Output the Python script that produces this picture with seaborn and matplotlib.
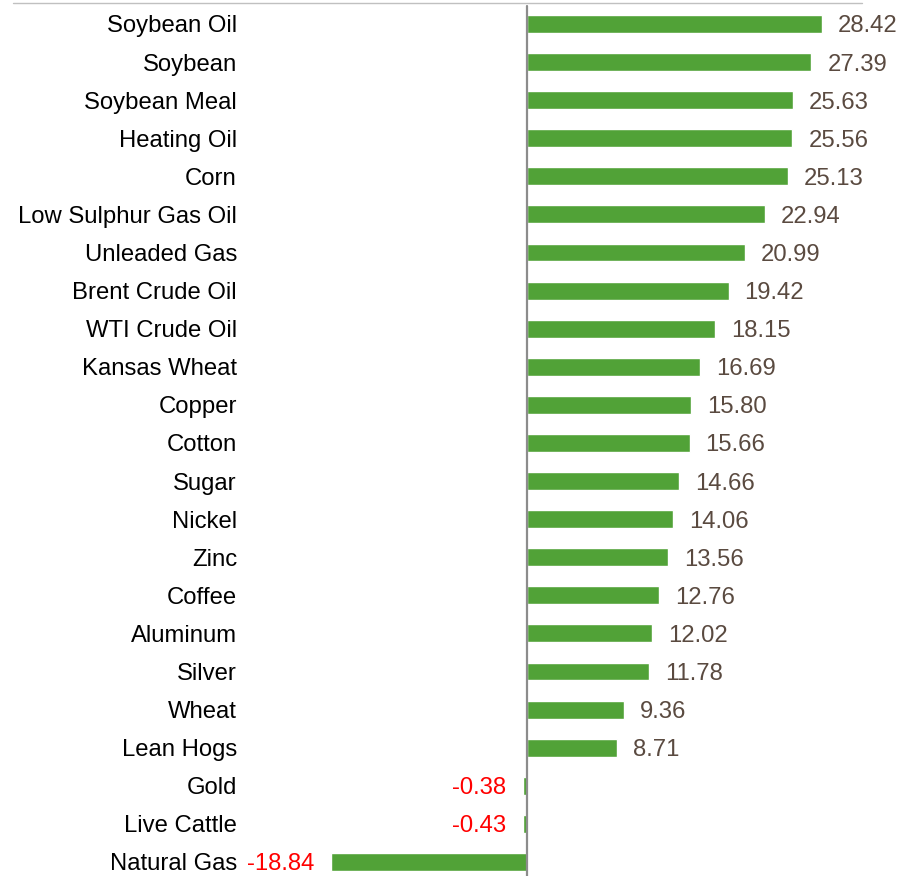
import pandas as pd
import matplotlib
matplotlib.use("Agg")
import matplotlib.pyplot as plt
from matplotlib.lines import Line2D
import seaborn as sns

# chart data
commodities = ["Soybean Oil", "Soybean", "Soybean Meal", "Heating Oil", "Corn",
               "Low Sulphur Gas Oil", "Unleaded Gas", "Brent Crude Oil", "WTI Crude Oil",
               "Kansas Wheat", "Copper", "Cotton", "Sugar", "Nickel", "Zinc", "Coffee",
               "Aluminum", "Silver", "Wheat", "Lean Hogs", "Gold", "Live Cattle", "Natural Gas"]
returns = [28.42, 27.39, 25.63, 25.56, 25.13, 22.94, 20.99, 19.42, 18.15, 16.69,
           15.80, 15.66, 14.66, 14.06, 13.56, 12.76, 12.02, 11.78, 9.36, 8.71,
           -0.38, -0.43, -18.84]

df = pd.DataFrame({"Commodity": commodities, "Return": returns})

sns.set_style("white")
plt.rcParams["font.family"] = ["Liberation Sans", "DejaVu Sans"]

fig = plt.figure(figsize=(9.17, 8.76), dpi=100)
# axes placed so the zero line lands where the reference has it
ax = fig.add_axes([250 / 917, 0.0, 612 / 917, 873 / 876])

sns.barplot(data=df, x="Return", y="Commodity", orient="h", color="#51A237",
            width=0.47, saturation=1, ax=ax)

ax.set_xlim(-26.69, 32.27)
ax.set_ylim(22.37, -0.55)
ax.axvline(0, color="#8C8C8C", lw=1.6, ymin=0, ymax=0.997)

# value labels
for i, v in enumerate(returns):
    if v >= 0:
        ax.annotate(f"{v:.2f}", (v, i), xytext=(11.5, 0), textcoords="offset points",
                    ha="left", va="center_baseline", fontsize=17.2, color="#5A4A40")
    else:
        ax.annotate(f"{v:.2f}", (v, i), xytext=(-12, 0), textcoords="offset points",
                    ha="right", va="center_baseline", fontsize=17.2, color="#FF0000")

ax.set_xlabel("")
ax.set_ylabel("")
ax.set_xticks([])
ax.tick_params(axis="y", length=0, pad=9.4, labelsize=17.2, labelcolor="black")

for side in ["left", "right", "bottom", "top"]:
    ax.spines[side].set_visible(False)

# thin grey rule across the top of the whole chart
fig.add_artist(Line2D([13 / 917, 862 / 917], [873 / 876, 873 / 876],
                      transform=fig.transFigure, color="#C0C0C0", lw=1.0))

fig.savefig("out.png", dpi=100)
